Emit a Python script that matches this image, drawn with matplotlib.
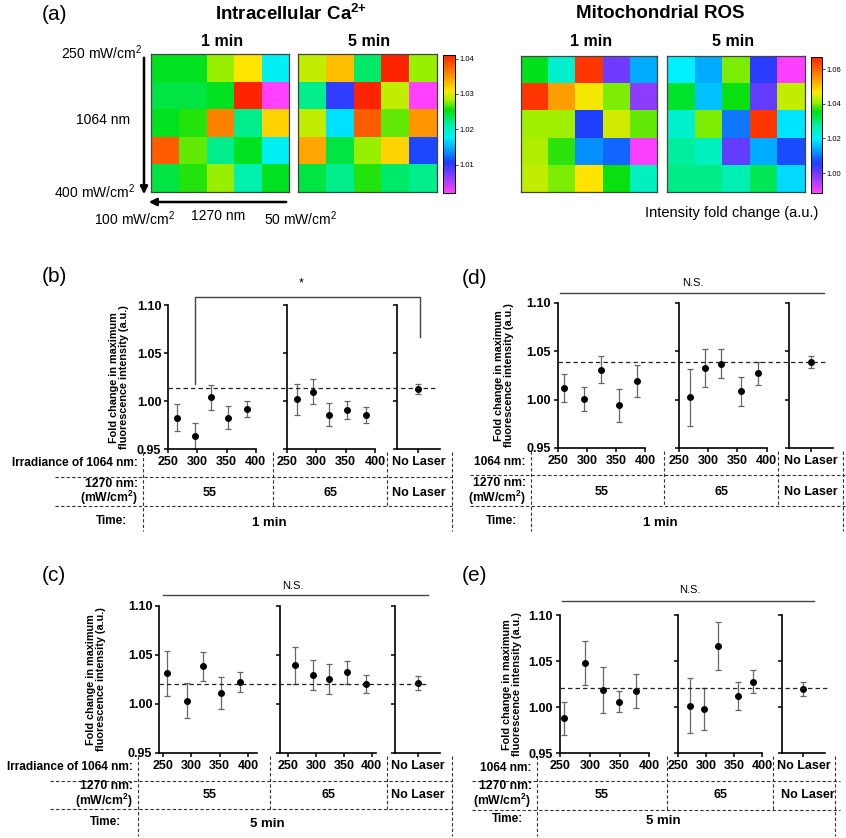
import matplotlib
matplotlib.use("Agg")
import numpy as np
import matplotlib.pyplot as plt
from matplotlib.colors import LinearSegmentedColormap
from matplotlib.lines import Line2D
from matplotlib.transforms import blended_transform_factory

W, H = 846, 838

plt.rcParams['font.family'] = ['Liberation Sans', 'DejaVu Sans']
plt.rcParams['mathtext.fontset'] = 'custom'
plt.rcParams['mathtext.rm'] = 'Liberation Sans'
plt.rcParams['mathtext.bf'] = 'Liberation Sans:bold'

# ---- panel (a): 5x5 intensity fold change maps (rows: 1064 nm 250->400, cols: 1270 nm 100->50)
ca_1min = [[1.025, 1.025, 1.028, 1.031, 1.018],
           [1.024, 1.024, 1.025, 1.041, 1.002],
           [1.025, 1.026, 1.036, 1.022, 1.032],
           [1.038, 1.027, 1.022, 1.025, 1.018],
           [1.024, 1.026, 1.028, 1.021, 1.025]]
ca_5min = [[1.029, 1.033, 1.023, 1.041, 1.028],
           [1.022, 1.010, 1.041, 1.029, 1.002],
           [1.029, 1.017, 1.038, 1.027, 1.035],
           [1.034, 1.024, 1.028, 1.032, 1.011],
           [1.024, 1.022, 1.026, 1.023, 1.022]]
ros_1min = [[1.035, 1.024, 1.065, 1.000, 1.014],
            [1.065, 1.054, 1.046, 1.040, 0.998],
            [1.041, 1.041, 1.006, 1.044, 1.039],
            [1.042, 1.037, 1.012, 1.009, 0.989],
            [1.043, 1.040, 1.047, 1.036, 1.025]]
ros_5min = [[1.020, 1.014, 1.040, 1.005, 0.989],
            [1.034, 1.016, 1.036, 1.001, 1.043],
            [1.024, 1.040, 1.010, 1.065, 1.019],
            [1.028, 1.025, 1.001, 1.014, 1.007],
            [1.029, 1.029, 1.026, 1.032, 1.018]]
ca_range = (1.002, 1.041)
ros_range = (0.9885, 1.067)
ca_ticks = [1.01, 1.02, 1.03, 1.04]
ros_ticks = [1.00, 1.02, 1.04, 1.06]

# ---- panels (b)-(e): irradiance of 1064 nm, mean fold change and error
irr_ticks = [250, 300, 350, 400]
group_labels = ['55', '65', 'No Laser']

b_x55 = [265, 295, 324, 353, 385]
b_m55 = [0.983, 0.964, 1.004, 0.983, 0.992]
b_e55 = [0.014, 0.014, 0.0125, 0.012, 0.0085]
b_x65 = [267, 295, 322, 352, 384]
b_m65 = [1.002, 1.010, 0.986, 0.991, 0.986]
b_e65 = [0.016, 0.013, 0.012, 0.009, 0.008]
b_ctrl = (1.013, 0.0055)

c_x55 = [257, 292, 321, 352, 385]
c_m55 = [1.031, 1.003, 1.038, 1.011, 1.022]
c_e55 = [0.023, 0.018, 0.015, 0.016, 0.010]
c_x65 = [262, 294, 323, 356, 390]
c_m65 = [1.039, 1.029, 1.0255, 1.032, 1.020]
c_e65 = [0.019, 0.0155, 0.0155, 0.012, 0.0095]
c_ctrl = (1.021, 0.007)

d_x55 = [261, 296, 325, 355, 386]
d_m55 = [1.012, 1.0005, 1.031, 0.994, 1.019]
d_e55 = [0.0145, 0.0125, 0.014, 0.017, 0.0165]
d_x65 = [269, 295, 322, 356, 386]
d_m65 = [1.0025, 1.0325, 1.037, 1.0087, 1.027]
d_e65 = [0.0295, 0.0195, 0.015, 0.015, 0.012]
d_ctrl = (1.039, 0.006)

e_x55 = [256, 292, 322, 349, 378]
e_m55 = [0.988, 1.0476, 1.0187, 1.006, 1.018]
e_e55 = [0.018, 0.024, 0.025, 0.0117, 0.0185]
e_x65 = [270, 295, 320, 356, 384]
e_m65 = [1.0017, 0.998, 1.066, 1.0122, 1.0277]
e_e65 = [0.0295, 0.023, 0.026, 0.0155, 0.0125]
e_ctrl = (1.020, 0.0074)

rainbow = LinearSegmentedColormap.from_list('rb', [
    (0.00, '#ff40ff'), (0.12, '#8a3cff'), (0.22, '#1f3cff'), (0.32, '#00a8ff'),
    (0.40, '#00f0ff'), (0.50, '#00f0a0'), (0.60, '#00e010'), (0.67, '#a0f000'),
    (0.74, '#ffe800'), (0.86, '#ff8c00'), (1.00, '#ff2400')])

fig = plt.figure(figsize=(W / 100, H / 100), dpi=100)
over = fig.add_axes([0, 0, 1, 1])
over.set_xlim(0, W)
over.set_ylim(H, 0)
over.axis('off')
over.set_autoscale_on(False)


def px_axes(x0, y0, x1, y1):
    return fig.add_axes([x0 / W, 1 - y1 / H, (x1 - x0) / W, (y1 - y0) / H])


def txt(x, y, s, size=8, weight='bold', **kw):
    kw.setdefault('ha', 'center')
    kw.setdefault('va', 'center')
    over.text(x, y, s, fontsize=size, fontweight=weight, **kw)


def heatmap(box, arr, vr):
    ax = px_axes(*box)
    im = ax.imshow(np.array(arr), cmap=rainbow, vmin=vr[0], vmax=vr[1], aspect='auto')
    ax.set_xticks([])
    ax.set_yticks([])
    for s in ax.spines.values():
        s.set_color('#444444')
        s.set_linewidth(0.9)
    return im


def cbar(box, im, ticks):
    cax = px_axes(*box)
    cb = fig.colorbar(im, cax=cax, ticks=ticks, format='%.2f')
    cb.outline.set_linewidth(0.7)
    cax.tick_params(labelsize=5.5, length=2, width=0.5, pad=1.5)


# ---------------- panel (a)
txt(42, 14, '(a)', size=15, weight='normal', ha='left')
txt(291, 14, r'Intracellular Ca$^{\mathbf{2}{\mathbf{+}}}$', size=13.5)
txt(660, 14, 'Mitochondrial ROS', size=13.5)
for x, s in [(222, '1 min'), (369, '5 min'), (591, '1 min'), (733, '5 min')]:
    txt(x, 41, s, size=11.5)

im = heatmap((151, 54, 289, 192), ca_1min, ca_range)
heatmap((298, 54, 437, 192), ca_5min, ca_range)
cbar((443, 55, 455, 193), im, ca_ticks)
im = heatmap((521, 56, 657, 192), ros_1min, ros_range)
heatmap((667, 56, 805, 192), ros_5min, ros_range)
cbar((811, 57, 822, 193), im, ros_ticks)

txt(142, 53, '250 mW/cm$^2$', size=10, weight='normal', ha='right')
txt(103, 120, '1064 nm', size=10, weight='normal')
txt(135, 192, '400 mW/cm$^2$', size=10, weight='normal', ha='right')
txt(135, 219, '100 mW/cm$^2$', size=10, weight='normal')
txt(218, 216, '1270 nm', size=10, weight='normal')
txt(301, 219, '50 mW/cm$^2$', size=10, weight='normal')
txt(732, 213, 'Intensity fold change (a.u.)', size=10.5, weight='normal')
over.annotate('', xy=(144, 197), xytext=(144, 55),
              arrowprops=dict(arrowstyle='-|>', lw=1.8, color='black', mutation_scale=11))
over.annotate('', xy=(146, 202), xytext=(289, 202),
              arrowprops=dict(arrowstyle='-|>', lw=1.8, color='black', mutation_scale=11))

# ---------------- panels (b)-(e)
dash = dict(color='#333333', lw=0.8, ls=(0, (3, 2)))

panels = [
    dict(tag='(b)', tag_xy=(42, 276), ytop=305, ybot=449.5,
         ax_x=[(168.3, 255.7), (286.7, 375), (396.7, 440)],
         xlims=[(250, 400), (250, 400)], ylab_x=119,
         data=(b_x55, b_m55, b_e55, b_x65, b_m65, b_e65, b_ctrl), ref=1.0135,
         ref_x=(168, 436), row1='Irradiance of 1064 nm:', row_r=138,
         vl=(142.7, 273, 387, 452), hl_x=(55, 452), row_y=(463, 492.5, 521),
         hl_y=(476.7, 506), vl_y=(452, 531), val_x=(210, 330, 419),
         time='1 min', time_x=269, time_lab_x=111),
    dict(tag='(c)', tag_xy=(42, 575), ytop=605.7, ybot=752.7,
         ax_x=[(159.3, 256.7), (280, 375.7), (395.3, 440)],
         xlims=[(244, 415), (235, 407)], ylab_x=96,
         data=(c_x55, c_m55, c_e55, c_x65, c_m65, c_e65, c_ctrl), ref=1.020,
         ref_x=(159, 428), row1='Irradiance of 1064 nm:', row_r=133,
         vl=(137.7, 270, 386.7, 452), hl_x=(50, 452), row_y=(767, 795, 822),
         hl_y=(780.5, 809), vl_y=(756, 836), val_x=(210, 328, 418),
         time='5 min', time_x=267, time_lab_x=106),
    dict(tag='(d)', tag_xy=(462, 278), ytop=302.7, ybot=448,
         ax_x=[(557.7, 645), (678.7, 766.7), (788.7, 833)],
         xlims=[(250, 400), (250, 400)], ylab_x=504,
         data=(d_x55, d_m55, d_e55, d_x65, d_m65, d_e65, d_ctrl), ref=1.0386,
         ref_x=(557.7, 828), row1='1064 nm:', row_r=526,
         vl=(531, 664, 778, 842.7), hl_x=(470, 845), row_y=(462, 492, 521),
         hl_y=(475, 506), vl_y=(451, 531), val_x=(601.7, 721.7, 810.7),
         time='1 min', time_x=660, time_lab_x=502),
    dict(tag='(e)', tag_xy=(462, 575), ytop=615, ybot=753.3,
         ax_x=[(560, 649.3), (678.3, 762.3), (781.7, 825)],
         xlims=[(250, 400), (250, 400)], ylab_x=512,
         data=(e_x55, e_m55, e_e55, e_x65, e_m65, e_e65, e_ctrl), ref=1.0212,
         ref_x=(560, 828), row1='1064 nm:', row_r=531.7,
         vl=(537.3, 666.7, 773.3, 835), hl_x=(472, 840), row_y=(768, 795, 819),
         hl_y=(780.5, 810), vl_y=(756, 836), val_x=(601.7, 720, 808),
         time='5 min', time_x=663, time_lab_x=507),
]


def style_axis(ax, first):
    ax.patch.set_visible(False)
    for s in ('top', 'right'):
        ax.spines[s].set_visible(False)
    for s in ('left', 'bottom'):
        ax.spines[s].set_linewidth(1.2)
    ax.set_ylim(0.95, 1.10)
    ax.set_yticks([0.95, 1.00, 1.05, 1.10])
    ax.tick_params(axis='both', direction='out', length=3, width=1.1, pad=2,
                   labelsize=9)
    if first:
        ax.set_yticklabels(['%.2f' % v for v in ax.get_yticks()], fontweight='bold')
    else:
        ax.set_yticklabels([])


for p in panels:
    x55, m55, e55, x65, m65, e65, ctrl = p['data']
    axs = [px_axes(x0, p['ytop'], x1, p['ybot']) for x0, x1 in p['ax_x']]
    for k, ax in enumerate(axs):
        style_axis(ax, k == 0)
    for ax, xs, ms, es, xl in [(axs[0], x55, m55, e55, p['xlims'][0]),
                               (axs[1], x65, m65, e65, p['xlims'][1])]:
        ax.errorbar(xs, ms, yerr=es, fmt='o', color='black', ms=4,
                    ecolor='#666666', elinewidth=0.9, capsize=2.4, capthick=0.9)
        ax.set_xlim(*xl)
        ax.set_xticks(irr_ticks)
        ax.set_xticklabels([str(t) for t in irr_ticks], fontweight='bold')
    axs[2].errorbar([1], [ctrl[0]], yerr=[ctrl[1]], fmt='o', color='black', ms=4,
                    ecolor='#666666', elinewidth=0.9, capsize=2.4, capthick=0.9)
    axs[2].set_xlim(0, 2)
    axs[2].set_xticks([1])
    axs[2].set_xticklabels(['No Laser'], fontweight='bold')

    # dashed control reference across the three sub-axes
    tr = blended_transform_factory(over.transData, axs[0].transData)
    fig.add_artist(Line2D(list(p['ref_x']), [p['ref'], p['ref']], transform=tr,
                          color='#222222', lw=0.9, ls=(0, (3.5, 2.5))))

    txt(p['tag_xy'][0], p['tag_xy'][1], p['tag'], size=15, weight='normal', ha='left')
    txt(p['ylab_x'], (p['ytop'] + p['ybot']) / 2,
        'Fold change in maximum\nfluorescence intensity (a.u.)',
        size=7.8, rotation=90, linespacing=0.95)

    # table under the axes
    vl = p['vl']
    over.plot([vl[0], vl[0]], p['vl_y'], **dash)
    over.plot([vl[3], vl[3]], p['vl_y'], **dash)
    for xv in vl[1:3]:
        over.plot([xv, xv], [p['vl_y'][0], p['hl_y'][1]], **dash)
    for yh in p['hl_y']:
        over.plot(p['hl_x'], [yh, yh], **dash)
    ry = p['row_y']
    txt(p['row_r'], ry[0], p['row1'], size=8.6, ha='right')
    txt(p['row_r'], ry[1], '1270 nm:\n(mW/cm$^\\mathbf{2}$)', size=8.8, ha='right',
        multialignment='right', linespacing=0.95)
    txt(p['time_lab_x'], ry[2], 'Time:', size=8.5)
    for xv, s in zip(p['val_x'], group_labels):
        txt(xv, ry[1], s, size=9)
    txt(p['time_x'], ry[2] + 1.5, p['time'], size=9.5)

# significance annotations
over.plot([195, 195, 420, 420], [384, 297, 297, 337], color='#444444', lw=1.0)
txt(300.7, 283, '*', size=9, weight='normal')
for (x0, x1, y), (tx, ty) in [((163, 428, 595), (293, 586)),
                              ((560, 824, 293.3), (693, 283)),
                              ((562, 814, 601), (690, 590))]:
    over.plot([x0, x1], [y, y], color='#444444', lw=1.0)
    txt(tx, ty, 'N.S.', size=8, weight='normal')

fig.savefig('out.png', dpi=100)
